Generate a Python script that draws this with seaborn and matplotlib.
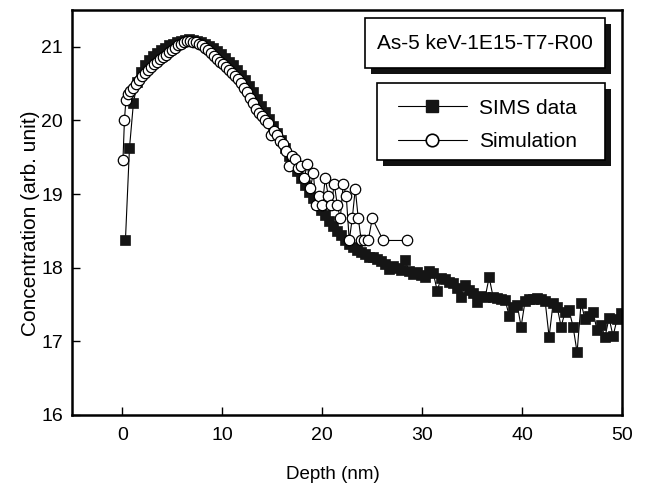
import matplotlib
matplotlib.use("Agg")
import matplotlib.pyplot as plt
from matplotlib.patches import Rectangle
from matplotlib.lines import Line2D
import seaborn as sns

# SIMS profile (filled squares)
sims_depth = [0.3, 0.7, 1.1, 1.5, 1.9, 2.3, 2.7, 3.1, 3.5, 3.9,
              4.3, 4.7, 5.1, 5.5, 5.9, 6.3, 6.7, 7.1, 7.5, 7.9,
              8.3, 8.7, 9.1, 9.5, 9.9, 10.3, 10.7, 11.1, 11.5, 11.9,
              12.3, 12.7, 13.1, 13.5, 13.9, 14.3, 14.7, 15.1, 15.5, 15.9,
              16.3, 16.7, 17.1, 17.5, 17.9, 18.3, 18.7, 19.1, 19.5, 19.9,
              20.3, 20.7, 21.1, 21.5, 21.9, 22.3, 22.7, 23.1, 23.5, 23.9,
              24.3, 24.7, 25.1, 25.5, 25.9, 26.3, 26.7, 27.1, 27.5, 27.9,
              28.3, 28.7, 29.1, 29.5, 29.9, 30.3, 30.7, 31.1, 31.5, 31.9,
              32.3, 32.7, 33.1, 33.5, 33.9, 34.3, 34.7, 35.1, 35.5, 35.9,
              36.3, 36.7, 37.1, 37.5, 37.9, 38.3, 38.7, 39.1, 39.5, 39.9,
              40.3, 40.7, 41.1, 41.5, 41.9, 42.3, 42.7, 43.1, 43.5, 43.9,
              44.3, 44.7, 45.1, 45.5, 45.9, 46.3, 46.7, 47.1, 47.5, 47.9,
              48.3, 48.7, 49.1, 49.5, 49.9]
sims_conc = [18.38, 19.62, 20.24, 20.52, 20.66, 20.75, 20.82, 20.88, 20.92, 20.96,
             20.99, 21.02, 21.04, 21.06, 21.08, 21.09, 21.10, 21.09, 21.08, 21.06,
             21.04, 21.01, 20.98, 20.94, 20.90, 20.85, 20.80, 20.75, 20.69, 20.62,
             20.55, 20.47, 20.38, 20.29, 20.20, 20.11, 20.02, 19.93, 19.83, 19.73,
             19.62, 19.52, 19.42, 19.32, 19.22, 19.12, 19.03, 18.95, 18.87, 18.79,
             18.71, 18.64, 18.57, 18.50, 18.44, 18.38, 18.32, 18.28, 18.24, 18.21,
             18.18, 18.15, 18.14, 18.12, 18.09, 18.05, 17.98, 18.02, 17.99, 17.97,
             18.10, 17.95, 17.92, 17.94, 17.90, 17.88, 17.95, 17.93, 17.69, 17.86,
             17.84, 17.80, 17.79, 17.72, 17.60, 17.76, 17.70, 17.66, 17.54, 17.62,
             17.60, 17.87, 17.60, 17.59, 17.58, 17.56, 17.35, 17.47, 17.50, 17.20,
             17.55, 17.58, 17.57, 17.59, 17.57, 17.55, 17.06, 17.52, 17.47, 17.20,
             17.40, 17.42, 17.20, 16.85, 17.52, 17.30, 17.35, 17.40, 17.15, 17.22,
             17.06, 17.32, 17.07, 17.30, 17.38]

# Simulated profile (open circles)
sim_depth = [0.05, 0.2, 0.35, 0.55, 0.8, 1.1, 1.4, 1.7, 2.0, 2.3,
             2.6, 2.9, 3.2, 3.5, 3.8, 4.1, 4.4, 4.7, 5.0, 5.3,
             5.6, 5.9, 6.2, 6.5, 6.8, 7.1, 7.4, 7.7, 8.0, 8.3,
             8.6, 8.9, 9.2, 9.5, 9.8, 10.1, 10.4, 10.7, 11.0, 11.3,
             11.6, 11.9, 12.2, 12.5, 12.8, 13.1, 13.4, 13.7, 14.0, 14.3,
             14.6, 14.9, 15.2, 15.5, 15.8, 16.1, 16.4, 16.7, 17.0, 17.3,
             17.6, 17.9, 18.2, 18.5, 18.8, 19.1, 19.4, 19.7, 20.0, 20.3,
             20.6, 20.9, 21.2, 21.5, 21.8, 22.1, 22.4, 22.7, 23.0, 23.3,
             23.6, 23.9, 24.2, 24.6, 25.0, 26.1, 28.5]
sim_conc = [19.46, 20.01, 20.28, 20.36, 20.40, 20.44, 20.50, 20.55, 20.61, 20.65,
            20.69, 20.72, 20.76, 20.79, 20.83, 20.86, 20.89, 20.93, 20.96, 20.99,
            21.02, 21.04, 21.06, 21.08, 21.08, 21.07, 21.06, 21.04, 21.02, 20.99,
            20.96, 20.92, 20.88, 20.84, 20.80, 20.76, 20.72, 20.68, 20.64, 20.60,
            20.56, 20.51, 20.44, 20.38, 20.30, 20.24, 20.16, 20.10, 20.06, 20.01,
            19.96, 19.80, 19.86, 19.80, 19.72, 19.68, 19.58, 19.38, 19.52, 19.48,
            19.36, 19.38, 19.22, 19.41, 19.08, 19.28, 18.85, 18.97, 18.85, 19.22,
            18.97, 18.85, 19.14, 18.85, 18.67, 19.14, 18.97, 18.37, 18.67, 19.07,
            18.67, 18.37, 18.37, 18.37, 18.67, 18.37, 18.37]

sns.set_style("ticks")
plt.rcParams['font.family'] = ['Liberation Sans', 'DejaVu Sans']
plt.rcParams.update({'axes.edgecolor': 'black', 'text.color': 'black',
                     'axes.labelcolor': 'black', 'xtick.color': 'black',
                     'ytick.color': 'black'})

fig = plt.figure(figsize=(6.45, 4.9), dpi=100)
ax = fig.add_axes([0.1124, 0.1531, 0.852, 0.8265])

sns.lineplot(x=sims_depth, y=sims_conc, ax=ax, estimator=None, sort=False,
             color='black', linewidth=0.8, marker='s', markersize=7,
             markerfacecolor='#151515', markeredgecolor='#151515',
             markeredgewidth=0.5, zorder=2)
sns.lineplot(x=sim_depth, y=sim_conc, ax=ax, estimator=None, sort=False,
             color='black', linewidth=0.8, marker='o', markersize=7.5,
             markerfacecolor='white', markeredgecolor='black',
             markeredgewidth=0.9, zorder=3)

ax.set_xlim(-5, 50)
ax.set_ylim(16, 21.5)
ax.set_xticks([0, 10, 20, 30, 40, 50])
ax.set_yticks([16, 17, 18, 19, 20, 21])
ax.tick_params(direction='in', length=6, width=1, labelsize=14, pad=7,
               top=False, right=False)
ax.tick_params(axis='x', pad=9)
for s in ax.spines.values():
    s.set_linewidth(1.8)
    s.set_color('black')
    s.set_visible(True)

ax.set_xlabel("Depth (nm)", fontsize=13.5)
ax.set_ylabel("Concentration (arb. unit)", fontsize=15)
ax.xaxis.set_label_coords(0.474, -0.148)
ax.yaxis.set_label_coords(-0.077, 0.474)
ax.xaxis.label.set_va('center')
ax.yaxis.label.set_va('center')

# boxes with drop shadow (title + legend)
dx, dy = 0.011, 0.015


def shadow_box(x0, y0, x1, y1):
    ax.add_patch(Rectangle((x0 + dx, y0 - dy), x1 - x0, y1 - y0, transform=ax.transAxes,
                           facecolor='#111111', edgecolor='none', zorder=5))
    ax.add_patch(Rectangle((x0, y0), x1 - x0, y1 - y0, transform=ax.transAxes,
                           facecolor='white', edgecolor='black', linewidth=1.2, zorder=6))


shadow_box(0.532, 0.857, 0.969, 0.980)
ax.text(0.7505, 0.9185, "As-5 keV-1E15-T7-R00", transform=ax.transAxes,
        ha='center', va='center', fontsize=15, zorder=7)

shadow_box(0.554, 0.630, 0.969, 0.820)
handles = [Line2D([], [], color='black', linewidth=0.8, marker='s', markersize=9,
                  markerfacecolor='#151515', markeredgecolor='#151515'),
           Line2D([], [], color='black', linewidth=0.8, marker='o', markersize=9,
                  markerfacecolor='white', markeredgecolor='black', markeredgewidth=1.2)]
leg = ax.legend(handles, ["SIMS data", "Simulation"], loc='center',
                bbox_to_anchor=(0.755, 0.716), frameon=False, fontsize=15,
                handlelength=3.3, handletextpad=0.6, labelspacing=0.7)
leg.set_zorder(7)

fig.savefig("out.png", dpi=100)
